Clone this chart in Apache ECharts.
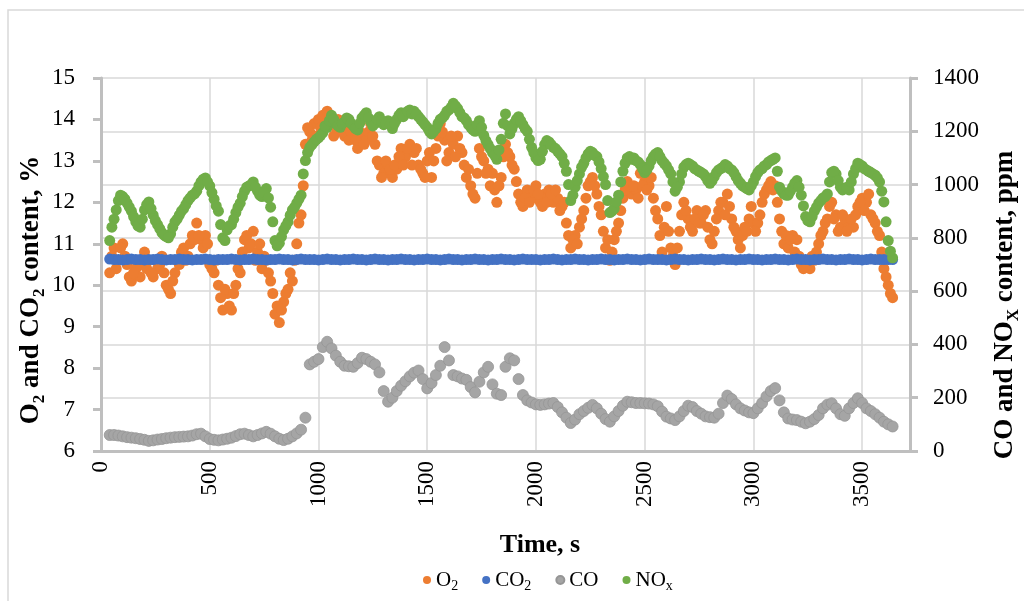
<!DOCTYPE html>
<html>
<head>
<meta charset="utf-8">
<script src="https://cdn.jsdelivr.net/npm/echarts@6/dist/echarts.min.js"></script>
<style>
  html, body { margin: 0; padding: 0; background: #fff; }
  #chart { width: 1024px; height: 601px; }
</style>
</head>
<body>
<div id="chart"></div>
<script>
// sampling times, s
var times = [
  40,60,80,100,120,140,160,180,200,220,
  240,260,280,300,320,340,360,380,400,420,
  440,460,480,500,520,540,560,580,600,620,
  640,660,680,700,720,740,760,780,800,820,
  840,860,880,900,920,940,960,980,1000,1020,
  1040,1060,1080,1100,1120,1140,1160,1180,1200,1220,
  1240,1260,1280,1300,1320,1340,1360,1380,1400,1420,
  1440,1460,1480,1500,1520,1540,1560,1580,1600,1620,
  1640,1660,1680,1700,1720,1740,1760,1780,1800,1820,
  1840,1860,1880,1900,1920,1940,1960,1980,2000,2020,
  2040,2060,2080,2100,2120,2140,2160,2180,2200,2220,
  2240,2260,2280,2300,2320,2340,2360,2380,2400,2420,
  2440,2460,2480,2500,2520,2540,2560,2580,2600,2620,
  2640,2660,2680,2700,2720,2740,2760,2780,2800,2820,
  2840,2860,2880,2900,2920,2940,2960,2980,3000,3020,
  3040,3060,3080,3100,3120,3140,3160,3180,3200,3220,
  3240,3260,3280,3300,3320,3340,3360,3380,3400,3420,
  3440,3460,3480,3500,3520,3540,3560,3580,3600,3620,
  3640
];
// in-between readings of the noisy O2 / NOx clouds
var timesMid = [
  50,70,90,110,130,150,170,190,210,230,
  250,270,290,310,330,350,370,390,410,430,
  450,470,490,510,530,550,570,590,610,630,
  650,670,690,710,730,750,770,790,810,830,
  850,870,890,910,930,950,970,990,1010,1030,
  1050,1070,1090,1110,1130,1150,1170,1190,1210,1230,
  1250,1270,1290,1310,1330,1350,1370,1390,1410,1430,
  1450,1470,1490,1510,1530,1550,1570,1590,1610,1630,
  1650,1670,1690,1710,1730,1750,1770,1790,1810,1830,
  1850,1870,1890,1910,1930,1950,1970,1990,2010,2030,
  2050,2070,2090,2110,2130,2150,2170,2190,2210,2230,
  2250,2270,2290,2310,2330,2350,2370,2390,2410,2430,
  2450,2470,2490,2510,2530,2550,2570,2590,2610,2630,
  2650,2670,2690,2710,2730,2750,2770,2790,2810,2830,
  2850,2870,2890,2910,2930,2950,2970,2990,3010,3030,
  3050,3070,3090,3110,3130,3150,3170,3190,3210,3230,
  3250,3270,3290,3310,3330,3350,3370,3390,3410,3430,
  3450,3470,3490,3510,3530,3550,3570,3590,3610,3630
];

// O2, %
var o2 = [
  10.3,10.9,10.6,11.0,10.5,10.1,10.4,10.2,10.8,10.6,
  10.2,10.4,10.7,10.0,9.8,10.3,10.5,10.9,10.7,11.2,
  11.5,11.1,11.2,10.5,10.3,10.0,9.4,9.8,9.4,10.0,
  10.3,11.1,10.9,11.3,10.8,10.4,10.6,10.1,9.3,9.1,
  9.6,9.9,10.1,11.0,11.7,13.4,13.7,13.9,14.0,14.1,
  14.2,13.9,13.8,13.9,13.6,13.5,13.8,13.3,13.6,13.5,
  13.9,13.4,12.9,12.7,12.9,12.6,12.8,13.3,13.1,13.4,
  13.2,12.9,12.7,13.0,12.6,13.3,13.9,13.5,13.2,13.4,
  13.6,13.2,12.6,12.4,12.1,13.3,13.0,12.8,12.7,12.0,
  12.6,13.4,13.1,12.8,12.2,11.9,12.3,12.1,12.4,12.0,
  12.2,12.3,12.0,12.1,11.9,11.5,10.9,11.2,11.4,11.8,
  12.4,12.6,12.2,11.7,10.9,10.6,11.1,11.5,12.1,12.5,
  12.2,12.3,12.7,12.5,12.4,12.1,11.6,10.8,11.9,10.9,
  10.5,11.3,12.0,11.6,11.3,11.8,11.5,11.8,11.1,11.3,
  11.8,12.0,12.2,11.6,11.3,10.9,11.4,11.6,11.5,11.5,
  12.0,12.3,12.5,12.4,11.6,11.0,10.9,11.2,11.1,10.5,
  10.6,10.4,10.6,11.0,11.3,11.6,12.0,11.7,11.4,11.6,
  11.4,11.4,11.9,12.1,12.0,11.7,11.5,11.2,10.4,10.0,
  9.7
];
var o2Mid = [
  10.7,10.4,10.9,10.7,10.2,10.3,10.6,10.5,10.4,10.3,
  10.6,10.5,10.3,9.9,10.1,10.6,10.8,10.6,11.0,11.1,
  11.2,10.9,11.0,10.4,10.6,9.7,9.9,9.5,9.8,10.4,
  10.8,11.2,11.0,10.6,11.0,10.7,10.3,9.8,9.5,9.4,
  9.8,10.3,10.6,11.5,12.4,13.8,13.5,13.6,13.8,13.9,
  14.0,13.6,14.0,13.7,13.8,13.7,13.5,13.7,13.4,13.7,
  13.6,13.0,12.6,13.0,12.8,12.9,13.1,12.9,13.3,12.9,
  13.3,12.8,12.6,13.2,13.0,13.6,13.7,13.0,13.6,13.1,
  13.3,12.9,12.8,12.2,12.7,13.1,12.7,12.4,12.3,12.4,
  13.1,13.2,12.9,12.5,12.0,12.1,12.0,12.3,12.2,11.9,
  12.0,12.2,12.3,11.8,12.0,11.2,11.1,11.0,11.6,12.1,
  12.5,12.4,11.9,11.3,11.1,10.8,11.3,11.8,12.3,12.4,
  12.4,12.1,12.4,12.3,12.6,11.8,11.2,11.4,11.3,10.7,
  10.9,11.7,11.8,11.4,11.6,11.5,11.7,11.4,11.0,11.6,
  12.0,11.7,11.9,11.4,11.1,11.2,11.3,11.9,11.3,11.7,
  12.2,12.4,12.3,12.0,11.3,11.2,11.1,10.8,10.7,10.4,
  10.5,10.7,10.8,11.2,11.5,11.9,11.6,11.3,11.7,11.3,
  11.6,11.7,12.0,11.8,12.2,11.6,11.3,10.8,10.2,9.8
];

// CO2, %
var co2 = [
  10.63,10.62,10.62,10.61,10.62,10.63,10.62,10.62,10.61,10.62,
  10.62,10.63,10.62,10.61,10.62,10.62,10.63,10.62,10.62,10.61,
  10.62,10.62,10.63,10.62,10.61,10.62,10.62,10.62,10.63,10.62,
  10.61,10.62,10.62,10.63,10.62,10.62,10.61,10.62,10.62,10.63,
  10.62,10.62,10.61,10.62,10.63,10.62,10.62,10.62,10.61,10.62,
  10.63,10.62,10.62,10.61,10.62,10.62,10.63,10.62,10.62,10.61,
  10.62,10.63,10.62,10.62,10.61,10.62,10.62,10.63,10.62,10.62,
  10.61,10.62,10.62,10.63,10.62,10.62,10.61,10.62,10.63,10.62,
  10.62,10.61,10.62,10.62,10.63,10.62,10.62,10.61,10.62,10.62,
  10.63,10.62,10.62,10.61,10.62,10.63,10.62,10.62,10.62,10.61,
  10.62,10.62,10.63,10.62,10.61,10.62,10.62,10.63,10.62,10.62,
  10.61,10.62,10.62,10.63,10.62,10.62,10.61,10.62,10.62,10.63,
  10.62,10.62,10.61,10.62,10.63,10.62,10.62,10.62,10.61,10.62,
  10.63,10.62,10.62,10.61,10.62,10.62,10.63,10.62,10.62,10.61,
  10.62,10.63,10.62,10.62,10.61,10.62,10.62,10.63,10.62,10.62,
  10.61,10.62,10.62,10.63,10.62,10.62,10.61,10.62,10.63,10.62,
  10.62,10.61,10.62,10.62,10.63,10.62,10.62,10.61,10.62,10.62,
  10.63,10.62,10.62,10.61,10.62,10.63,10.62,10.62,10.62,10.62,
  10.62
];

// CO, ppm
var co = [
  60,60,58,55,52,50,48,45,42,38,
  40,43,45,48,50,52,53,54,55,58,
  63,65,55,45,42,40,43,46,50,56,
  63,65,60,55,60,66,72,65,55,46,
  41,46,55,66,80,125,325,335,345,390,
  410,385,358,335,320,318,316,330,350,345,
  335,325,295,225,185,200,225,245,262,280,
  294,302,270,235,255,285,320,390,340,285,
  280,272,267,240,220,260,295,316,250,215,
  210,316,348,340,270,210,190,182,175,173,
  175,178,180,165,145,125,105,118,138,150,
  162,173,160,140,120,110,130,150,170,185,
  183,180,180,179,178,175,168,148,129,122,
  116,130,150,170,165,150,140,130,127,125,
  140,180,208,195,175,160,152,145,142,160,
  180,205,225,236,190,145,122,118,116,110,
  104,110,120,135,160,174,179,160,138,132,
  160,180,198,180,160,150,138,125,110,100,
  92
];

// NOx, ppm
var nox = [
  790,870,940,955,930,900,860,840,905,935,
  885,850,820,805,815,860,885,910,940,960,
  975,1010,1025,995,945,900,800,830,850,895,
  930,975,995,1010,975,955,985,915,790,780,
  830,860,905,930,960,1090,1140,1160,1175,1195,
  1215,1260,1230,1215,1235,1245,1220,1205,1250,1270,
  1235,1230,1255,1225,1240,1210,1245,1270,1265,1280,
  1275,1255,1235,1215,1190,1210,1245,1260,1280,1305,
  1285,1255,1240,1215,1200,1240,1185,1150,1120,1095,
  1170,1265,1190,1230,1255,1225,1200,1140,1100,1095,
  1150,1160,1140,1125,1105,1050,940,990,1040,1080,
  1115,1120,1105,1060,1000,895,910,960,1050,1100,
  1095,1090,1075,1045,1070,1105,1120,1090,1070,1040,
  975,1010,1065,1080,1070,1055,1045,1030,1005,1030,
  1055,1065,1070,1055,1030,1005,990,980,1010,1045,
  1060,1075,1090,1100,990,965,960,990,1015,960,
  880,860,900,930,950,965,1045,1040,990,985,
  980,1040,1080,1070,1055,1045,1035,1010,935,790,
  725
];
var noxMid = [
  840,905,960,945,915,880,845,870,925,910,
  865,835,810,800,840,870,900,925,950,965,
  995,1020,1010,970,920,850,790,845,870,915,
  955,990,1000,990,960,970,950,860,770,805,
  845,885,915,945,1040,1120,1150,1170,1185,1220,
  1240,1245,1220,1230,1250,1230,1210,1230,1260,1250,
  1220,1245,1240,1230,1225,1230,1260,1255,1275,1265,
  1265,1245,1225,1200,1200,1230,1250,1275,1290,1295,
  1270,1250,1225,1205,1225,1215,1165,1135,1110,1130,
  1230,1220,1210,1245,1240,1210,1170,1120,1090,1125,
  1165,1150,1135,1115,1080,1000,960,1015,1065,1100,
  1125,1110,1085,1030,940,900,935,1010,1080,1105,
  1100,1085,1060,1055,1090,1115,1105,1080,1055,1010,
  990,1040,1075,1075,1060,1050,1040,1015,1015,1045,
  1060,1075,1060,1045,1015,995,985,995,1030,1055,
  1070,1085,1095,1050,975,960,975,1005,990,920,
  865,880,915,940,955,1010,1050,1015,980,990,
  1010,1060,1075,1060,1050,1040,1025,975,860,750
];

var xTicks = { min: 0, max: 3720, step: 500 };
var yLeftTicks = { min: 6, max: 15, step: 1 };
var yRightTicks = { min: 0, max: 1400, step: 200 };

var FONT = '"Liberation Serif", "DejaVu Serif", serif';
var AXIS_GREY = '#bfbfbf';
var GRID_GREY = '#d9d9d9';
var DOT = 11;

function pairs(ts, vals) {
  return ts.map(function (t, i) { return [t, vals[i]]; });
}
function plain(v) { return String(v); }

var legendText = { 'O2': 'O{s|2}', 'CO2': 'CO{s|2}', 'CO': 'CO', 'NOx': 'NO{s|x}' };

// bold title text with subscripts
var titleRich = {
  b: { fontFamily: FONT, fontWeight: 'bold', fontSize: 27, lineHeight: 34, fill: '#000' },
  s: { fontFamily: FONT, fontWeight: 'bold', fontSize: 17, lineHeight: 34, verticalAlign: 'bottom', fill: '#000' }
};

var chart = echarts.init(document.getElementById('chart'));
var option = {
  animation: false,
  backgroundColor: '#fff',
  grid: { left: 101, right: 114, top: 78, bottom: 150, containLabel: false },
  legend: {
    left: 418, top: 562,
    icon: 'circle', itemWidth: 8, itemHeight: 8, itemGap: 24,
    data: ['O2', 'CO2', 'CO', 'NOx'],
    formatter: function (name) { return legendText[name]; },
    textStyle: {
      fontFamily: FONT, fontSize: 21, color: '#000', lineHeight: 26,
      rich: { s: { fontFamily: FONT, fontSize: 14, lineHeight: 26, verticalAlign: 'bottom', color: '#000' } }
    }
  },
  xAxis: {
    type: 'value', min: xTicks.min, max: xTicks.max, interval: xTicks.step,
    axisLine: { show: true, onZero: false, lineStyle: { color: AXIS_GREY, width: 3 } },
    axisTick: { show: false },
    splitLine: { show: true, lineStyle: { color: GRID_GREY, width: 1.5 } },
    axisLabel: { rotate: 90, margin: 10, showMaxLabel: false, formatter: plain, fontFamily: FONT, fontSize: 23, color: '#000' }
  },
  yAxis: [{
    type: 'value', position: 'left', min: yLeftTicks.min, max: yLeftTicks.max, interval: yLeftTicks.step,
    axisLine: { show: true, lineStyle: { color: AXIS_GREY, width: 3 } },
    axisTick: { show: true, inside: false, length: 8, lineStyle: { color: AXIS_GREY, width: 3 } },
    splitLine: { show: false },
    axisLabel: { margin: 26, formatter: plain, fontFamily: FONT, fontSize: 23, color: '#000' }
  }, {
    type: 'value', position: 'right', min: yRightTicks.min, max: yRightTicks.max, interval: yRightTicks.step,
    axisLine: { show: true, lineStyle: { color: AXIS_GREY, width: 3 } },
    axisTick: { show: true, inside: false, length: 8, lineStyle: { color: AXIS_GREY, width: 3 } },
    splitLine: { show: true, lineStyle: { color: GRID_GREY, width: 1.5 } },
    axisLabel: { margin: 23, formatter: plain, fontFamily: FONT, fontSize: 23, color: '#000' }
  }],
  series: [{
    name: 'O2', type: 'scatter', yAxisIndex: 0,
    data: pairs(times, o2).concat(pairs(timesMid, o2Mid)),
    symbolSize: DOT, itemStyle: { color: '#ED7D31', opacity: 1 }
  }, {
    name: 'CO2', type: 'scatter', yAxisIndex: 0, data: pairs(times, co2),
    symbolSize: DOT, itemStyle: { color: '#4472C4', opacity: 1 }
  }, {
    name: 'CO', type: 'scatter', yAxisIndex: 1, data: pairs(times, co),
    symbolSize: DOT, itemStyle: { color: '#A5A5A5', borderColor: '#959595', borderWidth: 0.8, opacity: 1 }
  }, {
    name: 'NOx', type: 'scatter', yAxisIndex: 1,
    data: pairs(times, nox).concat(pairs(timesMid, noxMid)),
    symbolSize: DOT, itemStyle: { color: '#70AD47', opacity: 1 }
  }],
  graphic: [{
    type: 'rect', silent: true,
    shape: { x: 8, y: 10, width: 1300, height: 800 },
    style: { fill: 'none', stroke: GRID_GREY, lineWidth: 1.5 }
  }, {
    type: 'text', x: 31, y: 290, rotation: Math.PI / 2,
    style: {
      text: '{b|O}{s|2}{b| and CO}{s|2}{b| content, %}', rich: titleRich,
      align: 'center', verticalAlign: 'middle'
    }
  }, {
    type: 'text', x: 1005, y: 305, rotation: Math.PI / 2,
    style: {
      text: '{b|CO and NO}{s|X}{b| content, ppm}', rich: titleRich,
      align: 'center', verticalAlign: 'middle'
    }
  }, {
    type: 'text', x: 540, y: 545,
    style: {
      text: 'Time, s', fontFamily: FONT, fontWeight: 'bold', fontSize: 26, fill: '#000',
      align: 'center', verticalAlign: 'middle'
    }
  }]
};
chart.setOption(option);
</script>
</body>
</html>
